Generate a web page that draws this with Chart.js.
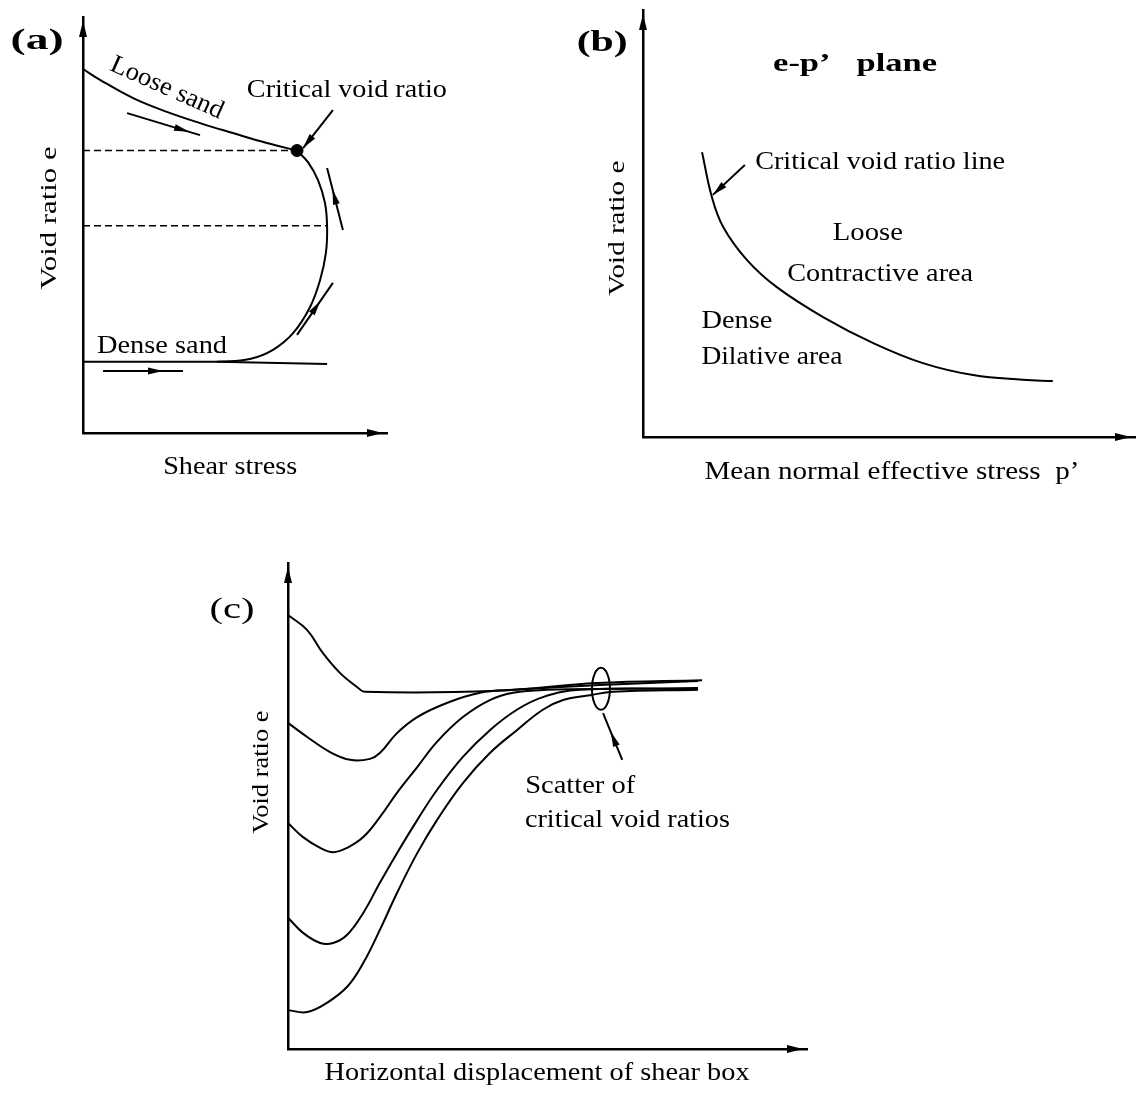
<!DOCTYPE html>
<html>
<head>
<meta charset="utf-8">
<script src="https://cdn.jsdelivr.net/npm/chart.js@4.4.0/dist/chart.umd.min.js"></script>
<style>
  html, body { margin: 0; padding: 0; background: #fff; font-family: 'Liberation Serif', serif; }
  canvas { position: absolute; left: 0; top: 0; }
  #probe { position: absolute; left: -999px; top: 0; font-family: 'Liberation Serif'; }
</style>
</head>
<body>
<span id="probe">Critical void ratio</span>
<canvas id="chartA" width="1137" height="1093"></canvas>
<canvas id="chartB" width="1137" height="1093"></canvas>
<canvas id="chartC" width="1137" height="1093"></canvas>
<script>
// all values are schematic units (0-100 on each axis)

// (a) void ratio vs shear stress
const looseShear = [0, 5.6, 16.5, 27.6, 38.5, 49.3, 60.5, 70.4];
const looseE     = [87.5, 84.9, 80.5, 77.2, 74.5, 72.1, 69.7, 67.9];
const arcShear   = [70.4, 74.0, 77.3, 79.6, 80.3, 79.9, 78.0, 74.7, 69.1, 62.5, 54.9, 44.1];
const arcE       = [67.9, 65.1, 60.8, 55.3, 49.5, 43.3, 36.8, 30.3, 24.0, 20.0, 17.8, 17.1];
const denseShear = [0, 44.1, 80.3];
const denseE     = [17.1, 17.1, 16.6];
const criticalShear = [70.4];
const criticalE     = [67.9];
const levelE   = [67.9, 49.8];   // dashed void ratio levels
const levelEnd = [70.4, 80.3];

// (b) critical void ratio line in the e-p' plane
const cslP = [12.0, 14.0, 16.3, 21.1, 27.2, 36.6, 46.8, 56.9, 67.1, 77.2, 83.3];
const cslE = [66.7, 56.2, 49.2, 41.5, 35.1, 28.1, 22.0, 17.3, 14.5, 13.4, 13.1];

// (c) void ratio vs horizontal displacement, loosest to densest
const dispC1 = [0, 3.7, 6.7, 10.0, 13.3, 14.8, 40.3, 59.5, 79.8];
const eC1    = [89.3, 86.2, 81.5, 77.4, 74.5, 73.5, 73.7, 75.3, 75.9];
const dispC2 = [0, 3.7, 8.1, 12.0, 15.8, 17.7, 21.0, 24.9, 30.6, 37.0, 43.4, 60.1, 79.0];
const eC2    = [67.1, 64.2, 61.1, 59.5, 59.7, 60.9, 65.0, 68.3, 71.2, 73.3, 73.9, 74.9, 75.7];
const dispC3 = [0, 2.9, 6.2, 8.7, 11.4, 14.5, 17.7, 21.0, 24.9, 28.7, 33.7, 38.9, 43.4, 49.9, 64.0, 79.0];
const eC3    = [46.5, 43.6, 41.4, 40.5, 41.4, 43.6, 47.7, 52.7, 58.0, 63.2, 68.3, 71.8, 73.3, 73.9, 74.1, 74.3];
const dispC4 = [0, 2.9, 6.2, 8.7, 11.4, 14.5, 17.7, 21.0, 24.9, 28.7, 33.7, 38.9, 44.1, 49.1, 56.3, 79.0];
const eC4    = [27.0, 23.9, 21.8, 21.8, 23.5, 28.0, 34.2, 40.3, 47.1, 53.3, 60.1, 65.6, 69.8, 72.4, 73.9, 74.1];
const dispC5 = [0, 3.7, 7.5, 11.4, 14.5, 17.7, 21.0, 24.9, 28.7, 33.7, 38.9, 44.1, 49.1, 53.0, 58.2, 62.6, 79.0];
const eC5    = [8.0, 7.6, 9.5, 12.8, 17.7, 24.5, 32.1, 40.3, 47.1, 54.7, 60.9, 65.6, 69.8, 71.8, 72.8, 73.5, 73.9];

const FONT = "'Liberation Serif', Tinos, 'Times New Roman', Times, serif";

function head(ctx, x1, y1, x2, y2, len, half) {
  const ang = Math.atan2(y2 - y1, x2 - x1);
  const c = Math.cos(ang), s = Math.sin(ang);
  const bx = x2 - len * c, by = y2 - len * s;
  ctx.beginPath();
  ctx.moveTo(x2, y2);
  ctx.lineTo(bx - half * s, by + half * c);
  ctx.lineTo(bx + half * s, by - half * c);
  ctx.closePath();
  ctx.fill();
}

// axis arrowheads, annotation arrows, rings and labels
function makeSketch(notes) {
  return {
    id: 'sketch',
    afterDraw(chart) {
      const ctx = chart.ctx, a = chart.chartArea;
      const px = v => chart.scales.x.getPixelForValue(v);
      const py = v => chart.scales.y.getPixelForValue(v);
      ctx.save();
      ctx.fillStyle = '#000';
      ctx.strokeStyle = '#000';
      head(ctx, a.left, a.top + 30, a.left, a.top + 4, 16, 4);
      head(ctx, a.right - 30, a.bottom, a.right - 4, a.bottom, 16, 4);

      (notes.arrows || []).forEach(ar => {
        const x1 = px(ar.from[0]), y1 = py(ar.from[1]);
        const x2 = px(ar.to[0]), y2 = py(ar.to[1]);
        ctx.lineWidth = 2;
        ctx.beginPath();
        ctx.moveTo(x1, y1);
        ctx.lineTo(x2, y2);
        ctx.stroke();
        head(ctx, x1, y1, x1 + (x2 - x1) * ar.at, y1 + (y2 - y1) * ar.at, 15, 3.5);
      });

      (notes.rings || []).forEach(r => {
        ctx.lineWidth = 2;
        ctx.beginPath();
        ctx.ellipse(px(r.at[0]), py(r.at[1]), r.rx, r.ry, 0, 0, 2 * Math.PI);
        ctx.stroke();
      });

      (notes.labels || []).forEach(l => {
        ctx.save();
        ctx.translate(px(l.at[0]), py(l.at[1]));
        if (l.rot) ctx.rotate(l.rot * Math.PI / 180);
        ctx.font = (l.bold ? 'bold ' : '') + l.size + 'px ' + FONT;
        const w = ctx.measureText(l.text).width;
        if (l.width) ctx.scale(l.width / w, 1);
        ctx.textAlign = 'center';
        ctx.textBaseline = 'middle';
        ctx.fillText(l.text, 0, 0);
        ctx.restore();
      });
      ctx.restore();
    }
  };
}

function curve(xs, ys, extra) {
  return Object.assign({
    data: xs.map((x, i) => ({ x: x, y: ys[i] })),
    showLine: true,
    borderColor: '#000',
    borderWidth: 2,
    pointRadius: 0,
    tension: 0.4,
    clip: false
  }, extra || {});
}

function axisOpts() {
  return {
    type: 'linear', min: 0, max: 100, display: true,
    grid: { display: false, drawTicks: false },
    ticks: { display: false },
    border: { display: true, color: '#000', width: 2.5 }
  };
}

function options(padding) {
  return {
    responsive: false,
    animation: false,
    layout: { padding: padding },
    plugins: { legend: { display: false }, tooltip: { enabled: false } },
    scales: { x: axisOpts(), y: axisOpts() }
  };
}

function drawAll() {
  // (a)
  const levelSets = levelE.map((e, i) => curve([0, levelEnd[i]], [e, e], { borderWidth: 1.5, borderDash: [7, 4], tension: 0 }));
  new Chart(document.getElementById('chartA'), {
    type: 'scatter',
    data: {
      datasets: [
        curve(looseShear, looseE),
        curve(arcShear, arcE),
        curve(denseShear, denseE, { tension: 0 }),
        ...levelSets,
        { data: criticalShear.map((x, i) => ({ x: x, y: criticalE[i] })), pointRadius: 6, pointBackgroundColor: '#000', pointBorderColor: '#000', clip: false }
      ]
    },
    options: options({ left: 83, top: 17, right: 750, bottom: 660 }),
    plugins: [makeSketch({
      arrows: [
        { from: [14.5, 76.9], to: [38.5, 71.6], at: 0.85 },
        { from: [82.2, 77.6], to: [72.4, 68.5], at: 1 },
        { from: [85.5, 48.8], to: [80.3, 63.7], at: 0.65 },
        { from: [70.4, 23.6], to: [82.2, 36.1], at: 0.65 },
        { from: [6.6, 14.9], to: [32.9, 14.9], at: 0.75 }
      ],
      labels: [
        { text: '(a)', at: [-15.1, 94.2], size: 30, bold: true, width: 53 },
        { text: 'Loose sand', at: [27.6, 82.9], size: 26, width: 121, rot: 24 },
        { text: 'Critical void ratio', at: [86.8, 82.4], size: 26, width: 200 },
        { text: 'Dense sand', at: [26.0, 20.9], size: 26, width: 130 },
        { text: 'Void ratio e', at: [-10.9, 51.7], size: 24, width: 143, rot: -90 },
        { text: 'Shear stress', at: [48.4, -8.2], size: 26, width: 134 }
      ]
    })]
  });

  // (b)
  new Chart(document.getElementById('chartB'), {
    type: 'scatter',
    data: { datasets: [curve(cslP, cslE)] },
    options: options({ left: 643, top: 10, right: 2, bottom: 656 }),
    plugins: [makeSketch({
      arrows: [
        { from: [20.7, 63.7], to: [14.2, 56.7], at: 1 }
      ],
      labels: [
        { text: '(b)', at: [-8.3, 92.3], size: 30, bold: true, width: 51 },
        { text: 'e-p\u2019   plane', at: [43.1, 87.3], size: 26, bold: true, width: 164 },
        { text: 'Critical void ratio line', at: [48.2, 64.4], size: 26, width: 250 },
        { text: 'Loose', at: [45.7, 47.8], size: 26, width: 70 },
        { text: 'Contractive area', at: [48.2, 38.2], size: 26, width: 186 },
        { text: 'Dense', at: [19.1, 27.2], size: 26, width: 71 },
        { text: 'Dilative area', at: [26.2, 18.7], size: 26, width: 141 },
        { text: 'Void ratio e', at: [-5.1, 48.9], size: 24, width: 135, rot: -90 },
        { text: 'Mean normal effective stress  p\u2019', at: [50.6, -8.2], size: 26, width: 375 }
      ]
    })]
  });

  // (c)
  new Chart(document.getElementById('chartC'), {
    type: 'scatter',
    data: {
      datasets: [
        curve(dispC1, eC1),
        curve(dispC2, eC2),
        curve(dispC3, eC3),
        curve(dispC4, eC4),
        curve(dispC5, eC5)
      ]
    },
    options: options({ left: 288, top: 563, right: 330, bottom: 44 }),
    plugins: [makeSketch({
      arrows: [
        { from: [64.4, 59.5], to: [60.7, 69.1], at: 0.6 }
      ],
      rings: [
        { at: [60.3, 74.1], rx: 9, ry: 21 }
      ],
      labels: [
        { text: '(c)', at: [-10.8, 90.3], size: 30, width: 45 },
        { text: 'Void ratio e', at: [-5.0, 57.0], size: 24, width: 123, rot: -90 },
        { text: 'Scatter of', at: [56.3, 54.1], size: 26, width: 110 },
        { text: 'critical void ratios', at: [65.4, 47.1], size: 26, width: 205 },
        { text: 'Horizontal displacement of shear box', at: [48.0, -4.9], size: 26, width: 425 }
      ]
    })]
  });
}

if (document.fonts && document.fonts.load) {
  Promise.all([
    document.fonts.load("26px 'Liberation Serif'"),
    document.fonts.load("bold 26px 'Liberation Serif'")
  ]).then(drawAll, drawAll);
} else {
  drawAll();
}
</script>
</body>
</html>
